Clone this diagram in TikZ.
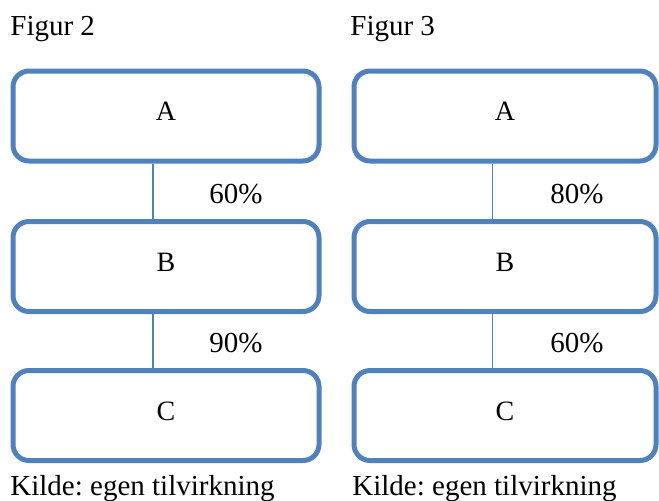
\documentclass[tikz,border=0pt]{standalone}
\usepackage{fontspec}
\setmainfont{LiberationSerif}[Extension=.ttf, UprightFont=*-Regular, BoldFont=*-Bold]
\frenchspacing
\begin{document}
\begin{tikzpicture}[x=0.5pt, y=-0.5pt, font=\fontsize{14.5}{17}\selectfont]
\definecolor{frame}{RGB}{79,129,189}
\tikzset{
  blok/.style={draw=frame, line width=2.5pt, rounded corners=8pt, minimum height=45pt,
    inner sep=0pt, text depth=4.5pt, font=\fontsize{14}{16}\selectfont},
  pct/.style={font=\fontsize{14.5}{17}\selectfont},
  tekst/.style={anchor=base west, inner sep=0pt},
  led/.style={draw=frame, line width=0.6pt}}
\useasboundingbox (0,0) rectangle (659,500);

% Figur 2
\node[tekst] (t2) at (10,35) {Figur 2};
\node[blok, minimum width=153pt] (a2) at (166,116) {A};
\node[blok, minimum width=153pt] (b2) at (166,266.5) {B};
\node[blok, minimum width=153pt] (c2) at (166,415.5) {C};
\draw[led] ([xshift=-6.5pt]a2.south) -- ([xshift=-6.5pt]b2.north);
\draw[led] ([xshift=-6.5pt]b2.south) -- ([xshift=-6.5pt]c2.north);
\node[pct] (p2a) at (236,194) {60\%};
\node[pct] (p2b) at (236,343) {90\%};
\node[tekst] (k2) at (10,495) {Kilde: egen tilvirkning};

% Figur 3
\node[tekst] (t3) at (350,35) {Figur 3};
\node[blok, minimum width=151pt] (a3) at (505,116) {A};
\node[blok, minimum width=151pt] (b3) at (505,266.5) {B};
\node[blok, minimum width=151pt] (c3) at (505,415.5) {C};
\draw[led] ([xshift=-6.2pt]a3.south) -- ([xshift=-6.2pt]b3.north);
\draw[led] ([xshift=-6.2pt]b3.south) -- ([xshift=-6.2pt]c3.north);
\node[pct] (p3a) at (577,194) {80\%};
\node[pct] (p3b) at (577,343) {60\%};
\node[tekst] (k3) at (352,495) {Kilde: egen tilvirkning};
\end{tikzpicture}
\end{document}
